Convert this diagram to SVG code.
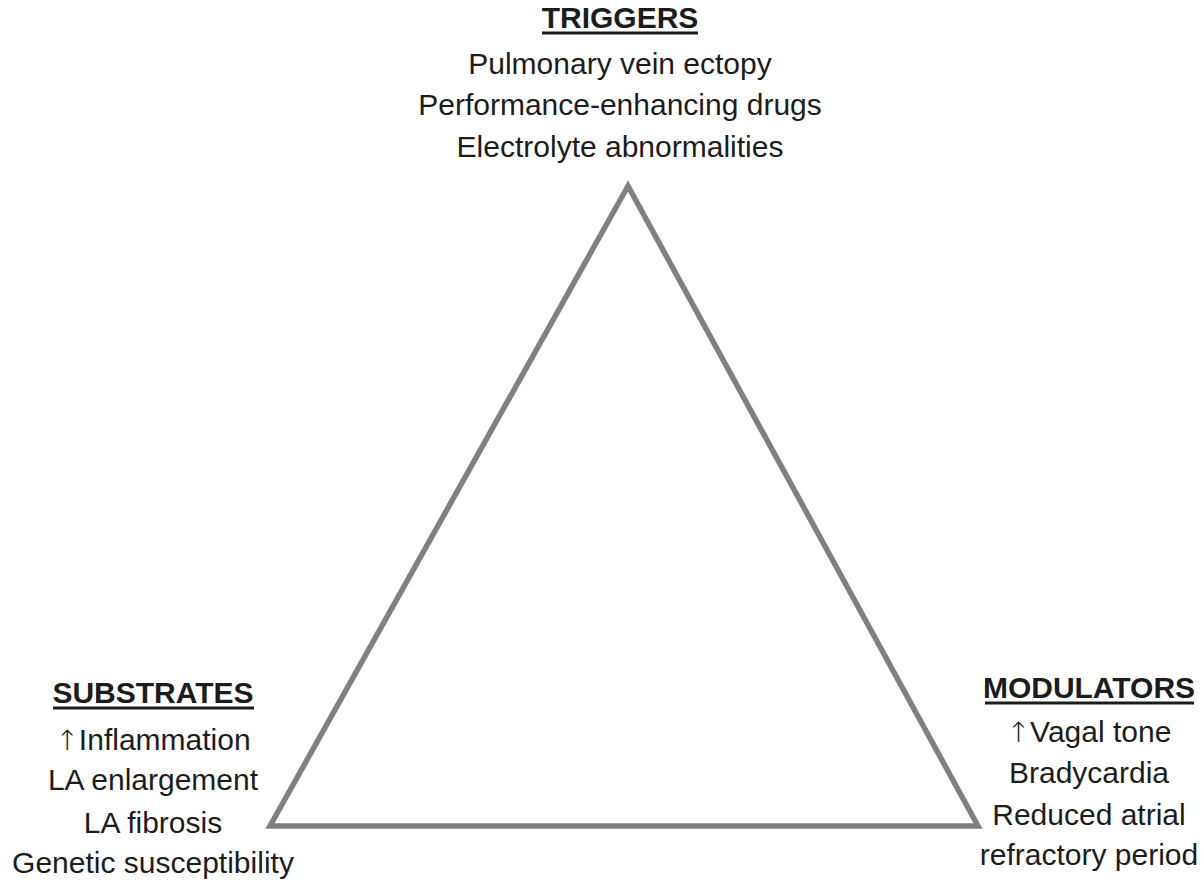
<svg xmlns="http://www.w3.org/2000/svg" width="1204" height="884" viewBox="0 0 1204 884">
  <style>
    text { font-family: "Liberation Sans", Arial, "DejaVu Sans", sans-serif; fill: #1c1c1c; text-anchor: middle; }
    .head { font-size: 30px; font-weight: bold; }
    .body { font-size: 30px; }
    .arr { font-family: "DejaVu Sans", sans-serif; font-size: 28px; font-weight: 200; }
    .ul { stroke: #1c1c1c; stroke-width: 3; }
    .tri { fill: none; stroke: #808080; stroke-width: 5.5; stroke-linejoin: miter; }
  </style>
  <rect width="1204" height="884" fill="#ffffff"/>
  <g id="connectors">
    <polygon id="triangle" class="tri" points="628,186 270,826 978,826"/>
  </g>
  <g id="triggers">
    <text class="head" x="620" y="28">TRIGGERS</text>
    <line class="ul" x1="542" y1="33" x2="698" y2="33"/>
    <text class="body" x="620" y="74">Pulmonary vein ectopy</text>
    <text class="body" x="620" y="115">Performance-enhancing drugs</text>
    <text class="body" x="620" y="157">Electrolyte abnormalities</text>
  </g>
  <g id="substrates">
    <text class="head" x="153" y="703">SUBSTRATES</text>
    <line class="ul" x1="53" y1="708" x2="254" y2="708"/>
    <text class="body" x="153" y="750"><tspan class="arr">↑</tspan>Inflammation</text>
    <text class="body" x="153" y="790">LA enlargement</text>
    <text class="body" x="153" y="833">LA fibrosis</text>
    <text class="body" x="153" y="873">Genetic susceptibility</text>
  </g>
  <g id="modulators">
    <text class="head" x="1089" y="698">MODULATORS</text>
    <line class="ul" x1="985" y1="703" x2="1194" y2="703"/>
    <text class="body" x="1089" y="742"><tspan class="arr">↑</tspan>Vagal tone</text>
    <text class="body" x="1089" y="783">Bradycardia</text>
    <text class="body" x="1089" y="825">Reduced atrial</text>
    <text class="body" x="1089" y="865">refractory period</text>
  </g>
</svg>
